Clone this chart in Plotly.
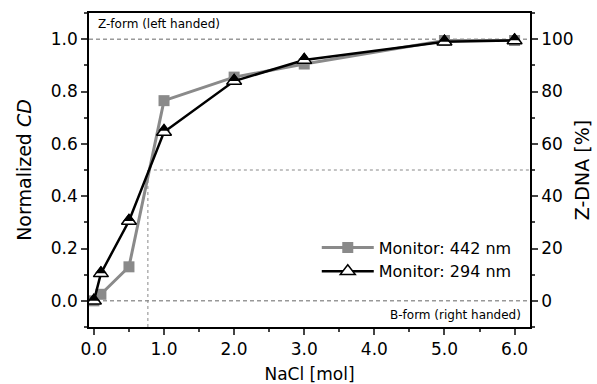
import plotly.graph_objects as go

# Data
nacl = [0.0, 0.1, 0.5, 1.0, 2.0, 3.0, 5.0, 6.0]
cd_442 = [0.0, 0.025, 0.13, 0.765, 0.855, 0.905, 0.995, 0.995]
cd_294 = [0.01, 0.115, 0.315, 0.66, 0.85, 0.93, 1.0, 1.005]
zdna_294 = [0.0, 10.5, 30.5, 64.5, 84.0, 92.0, 99.0, 99.5]
midpoint_x = 0.77
xticks = [0, 1, 2, 3, 4, 5, 6]
xtick_labels = ["0.0", "1.0", "2.0", "3.0", "4.0", "5.0", "6.0"]
yticks = [0.0, 0.2, 0.4, 0.6, 0.8, 1.0]
ytick_labels = ["0.0", "0.2", "0.4", "0.6", "0.8", "1.0"]
y2ticks = [0, 20, 40, 60, 80, 100]

FONT = "DejaVu Sans"
fig = go.Figure()

fig.add_trace(go.Scatter(
    x=nacl, y=cd_442, mode="lines+markers", name="Monitor: 442 nm",
    line=dict(color="#8a8a8a", width=3),
    marker=dict(symbol="square", size=11, color="#8a8a8a"),
))
fig.add_trace(go.Scatter(
    x=nacl, y=zdna_294, mode="lines+markers", name="Monitor: 294 nm", yaxis="y2",
    line=dict(color="black", width=2.5),
    marker=dict(symbol="triangle-up", size=13, color="white", line=dict(color="black", width=1.5)),
))
# CD values of the 294 nm series on the % scale (1.0 == 100 %)
fig.add_trace(go.Scatter(
    x=nacl, y=[v * 100 for v in cd_294], mode="markers", yaxis="y2",
    name="Monitor: 294 nm (CD)", showlegend=False,
    marker=dict(symbol="triangle-up", size=10, color="black"),
))

dash_style = "4px,3px"
shapes = [
    dict(type="line", xref="paper", x0=0, x1=1, yref="y", y0=1.0, y1=1.0,
         line=dict(color="#666", width=1, dash=dash_style), layer="below"),
    dict(type="line", xref="paper", x0=0, x1=1, yref="y", y0=0.0, y1=0.0,
         line=dict(color="#666", width=1, dash=dash_style), layer="below"),
    dict(type="line", xref="x", x0=midpoint_x, x1=6.22, yref="y", y0=0.5, y1=0.5,
         line=dict(color="#888", width=1, dash="dot"), layer="below"),
    dict(type="line", xref="x", x0=midpoint_x, x1=midpoint_x, yref="y", y0=-0.1, y1=0.5,
         line=dict(color="#888", width=1, dash="dot"), layer="below"),
]

fig.update_layout(
    width=597, height=384,
    margin=dict(l=89, r=67, t=13, b=57),
    paper_bgcolor="white", plot_bgcolor="white",
    font=dict(family=FONT, color="black", size=15),
    shapes=shapes,
    showlegend=True,
    legend=dict(x=0.97, y=0.215, xanchor="right", yanchor="middle",
                bgcolor="rgba(0,0,0,0)", font=dict(size=16, family=FONT),
                itemwidth=52, tracegroupgap=0),
    xaxis=dict(
        range=[-0.07, 6.22], tickvals=xticks, ticktext=xtick_labels,
        ticks="outside", ticklen=6, tickwidth=1.5, linecolor="black", linewidth=1.5,
        mirror=True, showgrid=False, zeroline=False, automargin=False,
        minor=dict(dtick=0.5, tick0=0, ticks="outside", ticklen=3, tickwidth=1.5),
        title=dict(text="NaCl [mol]", font=dict(size=17), standoff=10),
        tickfont=dict(size=17),
    ),
    yaxis=dict(
        range=[-0.1, 1.1], tickvals=yticks, ticktext=ytick_labels,
        ticks="outside", ticklen=6, tickwidth=1.5, linecolor="black", linewidth=1.5,
        showgrid=False, zeroline=False, automargin=False,
        minor=dict(dtick=0.1, tick0=0, ticks="outside", ticklen=3, tickwidth=1.5),
        title=dict(text="Normalized <i>CD</i>", font=dict(size=19), standoff=14),
        tickfont=dict(size=17),
    ),
    yaxis2=dict(
        range=[-10, 110], tickvals=y2ticks, overlaying="y", side="right",
        ticks="outside", ticklen=6, tickwidth=1.5, linecolor="black", linewidth=1.5,
        showgrid=False, zeroline=False, automargin=False,
        minor=dict(dtick=10, tick0=0, ticks="outside", ticklen=3, tickwidth=1.5),
        title=dict(text="Z-DNA [%]", font=dict(size=19), standoff=3),
        tickfont=dict(size=17),
    ),
    annotations=[
        dict(text="Z-form (left handed)", xref="paper", yref="paper", x=0.015, y=0.995,
             xanchor="left", yanchor="top", showarrow=False, font=dict(size=12)),
        dict(text="B-form (right handed)", xref="paper", yref="paper", x=0.985, y=0.01,
             xanchor="right", yanchor="bottom", showarrow=False, font=dict(size=12)),
    ],
)

fig.write_html("out.html")
